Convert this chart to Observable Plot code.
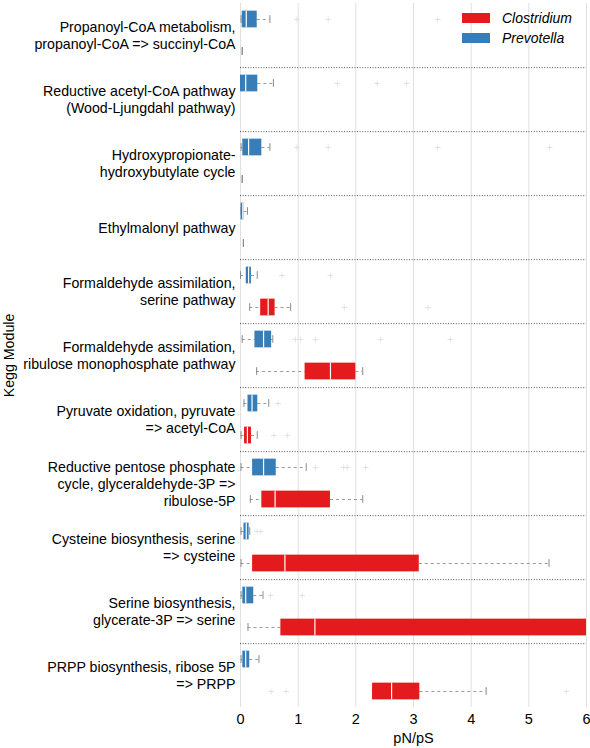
<!DOCTYPE html>
<html><head><meta charset="utf-8">
<script src="https://cdn.jsdelivr.net/npm/d3@7"></script>
<script src="https://cdn.jsdelivr.net/npm/@observablehq/plot@0.6"></script>
<style>
body{margin:0;background:#fff;font-family:"Liberation Sans",Arial,sans-serif;}
#wrap{position:relative;width:590px;height:748px;}
.legend{position:absolute;left:462px;top:8px;font-style:italic;font-size:14px;color:#000;}
.legend .row{display:flex;align-items:center;height:20px;}
.legend .sw{display:inline-block;width:28px;height:10px;margin-right:12px;}
</style></head><body><div id="wrap"></div>
<script>
const modules = [
  "Propanoyl-CoA metabolism,\npropanoyl-CoA => succinyl-CoA",
  "Reductive acetyl-CoA pathway\n(Wood-Ljungdahl pathway)",
  "Hydroxypropionate-\nhydroxybutylate cycle",
  "Ethylmalonyl pathway",
  "Formaldehyde assimilation,\nserine pathway",
  "Formaldehyde assimilation,\nribulose monophosphate pathway",
  "Pyruvate oxidation, pyruvate\n=> acetyl-CoA",
  "Reductive pentose phosphate\ncycle, glyceraldehyde-3P =>\nribulose-5P",
  "Cysteine biosynthesis, serine\n=> cysteine",
  "Serine biosynthesis,\nglycerate-3P => serine",
  "PRPP biosynthesis, ribose 5P\n=> PRPP"
];
const genera = ["Prevotella", "Clostridium"];
const legendOrder = ["Clostridium", "Prevotella"];
const generaColors = ["#377eb8", "#e41a1c"];
const xTicks = [0, 1, 2, 3, 4, 5, 6];

// Prevotella box statistics (per module)
const prevLo  = [0.01, 0.00, 0.01, 0.01, 0.00, 0.03, 0.06, 0.01, 0.01, 0.01, 0.01];
const prevQ1  = [0.03, 0.00, 0.04, 0.01, 0.10, 0.25, 0.13, 0.21, 0.06, 0.04, 0.04];
const prevMed = [0.10, 0.09, 0.14, 0.04, 0.14, 0.40, 0.20, 0.40, 0.10, 0.09, 0.09];
const prevQ3  = [0.29, 0.30, 0.37, 0.06, 0.19, 0.54, 0.30, 0.62, 0.15, 0.23, 0.16];
const prevHi  = [0.51, 0.57, 0.51, 0.12, 0.29, 0.56, 0.49, 1.14, 0.16, 0.39, 0.32];
const prevOutliers = [[0.98,1.52,3.42],[1.68,2.37,2.88],[0.98,1.52,3.42,5.36],[],[0.72,1.56],
  [0.95,1.04,1.30,2.43,3.64],[0.65],[1.30,1.79,1.85,2.17],[0.29,0.35],[0.52,1.07],[]];

// Clostridium box statistics (per module, null = absent)
const closLo  = [0.03, null, 0.03, 0.05, 0.16, 0.28, 0.01, 0.17, 0.01, 0.13, 2.29];
const closQ1  = [0.03, null, 0.03, 0.05, 0.35, 1.12, 0.07, 0.37, 0.21, 0.70, 2.29];
const closMed = [0.03, null, 0.03, 0.05, 0.48, 1.56, 0.12, 0.60, 0.77, 1.29, 2.62];
const closQ3  = [0.03, null, 0.03, 0.05, 0.60, 2.00, 0.19, 1.56, 3.10, 6.60, 3.11];
const closHi  = [0.03, null, 0.03, 0.05, 0.87, 2.12, 0.29, 2.12, 5.35, 8.00, 4.26];
const closOutliers = [[],[],[],[],[1.80,3.25],[],[0.58,0.81],[],[],[],[0.53,0.79,5.65]];

const stats = {
  Prevotella: {lo: prevLo, q1: prevQ1, med: prevMed, q3: prevQ3, hi: prevHi, out: prevOutliers},
  Clostridium: {lo: closLo, q1: closQ1, med: closMed, q3: closQ3, hi: closHi, out: closOutliers}
};
const rows = [], outRows = [];
for (const g of genera) {
  const s = stats[g];
  modules.forEach((m, i) => {
    if (s.q1[i] != null) rows.push({module: m, genus: g, lo: s.lo[i], q1: s.q1[i], med: s.med[i], q3: s.q3[i], hi: s.hi[i]});
    for (const v of s.out[i]) outRows.push({module: m, genus: g, x: v});
  });
}

const W = 590, H = 748, mt = 0, mb = 38;
const facetH = (H - mt - mb) / modules.length;
const halfBand = facetH / 4;
const boxInset = (facetH / 2 - 17) / 2;
const capInset = (facetH / 2 - 8) / 2;

const chart = Plot.plot({
  width: W, height: H,
  marginTop: mt, marginBottom: mb, marginLeft: 240, marginRight: 4,
  style: {fontFamily: "'Liberation Sans', Arial, sans-serif", fontSize: "14px", color: "#000", background: "#fff"},
  x: {domain: [0, 6]},
  y: {domain: genera, padding: 0, axis: null},
  fy: {domain: modules, padding: 0},
  color: {domain: genera, range: generaColors},
  marks: [
    Plot.ruleX(xTicks, {x: d => d, stroke: "#e0e0e0", strokeOpacity: 1, strokeWidth: 1}),
    Plot.ruleY(modules.slice(0, -1), {fy: d => d, y: () => "Clostridium", dy: halfBand, stroke: "#555", strokeDasharray: "1,1.6", strokeWidth: 1}),
    Plot.ruleY(rows, {fy: "module", y: "genus", x1: "lo", x2: "q1", stroke: "#9a9a9a", strokeDasharray: "3,3", clip: true}),
    Plot.ruleY(rows, {fy: "module", y: "genus", x1: "q3", x2: "hi", stroke: "#9a9a9a", strokeDasharray: "3,3", clip: true}),
    Plot.tickX(rows, {fy: "module", y: "genus", x: "lo", stroke: "#8a8a8a", insetTop: capInset, insetBottom: capInset, clip: true}),
    Plot.tickX(rows, {fy: "module", y: "genus", x: "hi", stroke: "#8a8a8a", insetTop: capInset, insetBottom: capInset, clip: true}),
    Plot.dot(outRows, {fy: "module", y: "genus", x: "x", symbol: "plus", r: 2, stroke: "#e2e2e2", strokeWidth: 1}),
    Plot.barX(rows, {fy: "module", y: "genus", x1: "q1", x2: "q3", fill: "genus", insetTop: boxInset, insetBottom: boxInset, clip: true}),
    Plot.tickX(rows.filter(d => d.q3 > d.q1), {fy: "module", y: "genus", x: "med", stroke: "#fff", strokeWidth: 1.2, insetTop: boxInset, insetBottom: boxInset, clip: true}),
    Plot.axisX(xTicks, {tickSize: 0, tickPadding: 6, fontSize: 14.5, tickFormat: d => String(d), label: "pN/pS", labelAnchor: "center", labelArrow: "none", labelOffset: 35}),
    Plot.axisFy({anchor: "left", tickSize: 0, tickPadding: 5, fontSize: 14.2, lineHeight: 1.19, label: "Kegg Module", labelAnchor: "center", labelArrow: "none", labelOffset: 237})
  ]
});

const wrap = document.getElementById("wrap");
wrap.appendChild(chart);
const legend = document.createElement("div");
legend.className = "legend";
for (const g of legendOrder) {
  const r = document.createElement("div");
  r.className = "row";
  const sw = document.createElement("span");
  sw.className = "sw";
  sw.style.background = generaColors[genera.indexOf(g)];
  const t = document.createElement("span");
  t.textContent = g;
  r.appendChild(sw); r.appendChild(t);
  legend.appendChild(r);
}
wrap.appendChild(legend);
</script></body></html>
